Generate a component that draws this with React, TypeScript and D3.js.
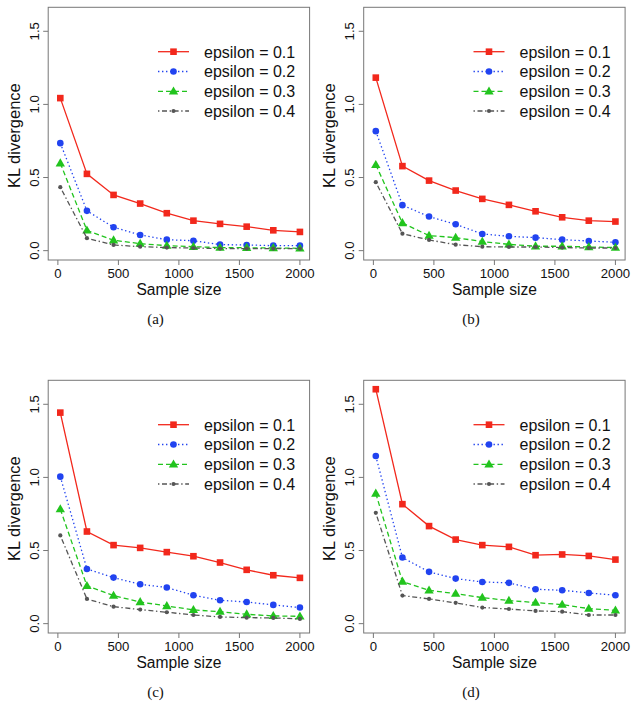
import React from "react";
import * as d3 from "d3";

const sampleSizes = [20, 240, 460, 680, 900, 1120, 1340, 1560, 1780, 2000];
const epsilons = ["epsilon = 0.1", "epsilon = 0.2", "epsilon = 0.3", "epsilon = 0.4"];
const xTicks = [0, 500, 1000, 1500, 2000];
const yTicks = [0, 0.5, 1.0, 1.5];
const captions = ["(a)", "(b)", "(c)", "(d)"];

const panelA = [
  [1.043, 0.525, 0.381, 0.322, 0.256, 0.205, 0.183, 0.164, 0.139, 0.128],
  [0.735, 0.272, 0.16, 0.107, 0.075, 0.068, 0.041, 0.039, 0.034, 0.034],
  [0.598, 0.139, 0.071, 0.048, 0.034, 0.027, 0.021, 0.02, 0.018, 0.016],
  [0.434, 0.085, 0.039, 0.027, 0.021, 0.018, 0.014, 0.014, 0.014, 0.014],
];
const panelB = [
  [1.183, 0.578, 0.479, 0.411, 0.354, 0.313, 0.269, 0.228, 0.205, 0.199],
  [0.817, 0.311, 0.233, 0.18, 0.114, 0.098, 0.089, 0.075, 0.066, 0.057],
  [0.587, 0.189, 0.103, 0.089, 0.062, 0.043, 0.03, 0.03, 0.025, 0.021],
  [0.468, 0.116, 0.073, 0.041, 0.027, 0.025, 0.025, 0.021, 0.018, 0.018],
];
const panelC = [
  [1.443, 0.63, 0.537, 0.518, 0.489, 0.461, 0.418, 0.368, 0.331, 0.313],
  [1.005, 0.374, 0.315, 0.269, 0.247, 0.194, 0.16, 0.148, 0.128, 0.11],
  [0.783, 0.258, 0.192, 0.148, 0.121, 0.094, 0.082, 0.064, 0.053, 0.05],
  [0.603, 0.169, 0.116, 0.096, 0.078, 0.059, 0.046, 0.041, 0.039, 0.032],
];
const panelD = [
  [1.603, 0.817, 0.667, 0.575, 0.537, 0.525, 0.468, 0.473, 0.463, 0.438],
  [1.146, 0.452, 0.354, 0.308, 0.285, 0.279, 0.235, 0.228, 0.21, 0.194],
  [0.89, 0.288, 0.228, 0.205, 0.178, 0.158, 0.144, 0.13, 0.103, 0.091],
  [0.758, 0.192, 0.169, 0.142, 0.11, 0.1, 0.087, 0.082, 0.059, 0.059],
];
const panels = [panelA, panelB, panelC, panelD];

const colors = ["#f2281c", "#2143f0", "#22c41e", "#555555"];
const dashes = ["none", "1.4,2.6", "5,3", "1.4,2.6,5,2.6"];
const offsets = [
  [0, 0],
  [315.5, 0],
  [0, 373],
  [315.5, 373],
];

const sans = "'Liberation Sans', Arial, 'DejaVu Sans', sans-serif";

const x = d3.scaleLinear().domain([-80, 2080]).range([48.2, 309.6]);
const y = d3.scaleLinear().domain([-0.064, 1.664]).range([260, 7.3]);

function Marker({ kind, cx, cy, color }: { kind: number; cx: number; cy: number; color: string }) {
  if (kind === 0) return <rect x={cx - 3.3} y={cy - 3.3} width={6.6} height={6.6} fill={color} />;
  if (kind === 1) return <circle cx={cx} cy={cy} r={3.3} fill={color} />;
  if (kind === 2) {
    const s = d3.symbol(d3.symbolTriangle, 38)();
    return <path d={s as string} transform={`translate(${cx},${cy + 0.5})`} fill={color} />;
  }
  return <circle cx={cx} cy={cy} r={2.1} fill={color} />;
}

function Panel({ data, ox, oy, caption }: { data: number[][]; ox: number; oy: number; caption: string }) {
  const line = d3
    .line<number>()
    .x((_, i) => x(sampleSizes[i]))
    .y((d) => y(d));
  const [x0, x1] = x.range();
  const [y0, y1] = y.range();
  const legendRows = [51.7, 71.5, 91.3, 111];
  return (
    <g transform={`translate(${ox},${oy})`}>
      <rect x={x0} y={y1} width={x1 - x0} height={y0 - y1} fill="none" stroke="#777" strokeWidth={1} />
      {xTicks.map((t) => (
        <g key={"x" + t}>
          <line x1={x(t)} x2={x(t)} y1={y0} y2={y0 + 5} stroke="#777" />
          <text x={x(t)} y={277.5} textAnchor="middle" fontFamily={sans} fontSize={13.2} fill="#111">
            {t}
          </text>
        </g>
      ))}
      {yTicks.map((t) => (
        <g key={"y" + t}>
          <line x1={x0} x2={x0 - 5} y1={y(t)} y2={y(t)} stroke="#777" />
          <text
            transform={`translate(38.5,${y(t)}) rotate(-90)`}
            textAnchor="middle"
            fontFamily={sans}
            fontSize={13.2}
            fill="#111"
          >
            {t.toFixed(1)}
          </text>
        </g>
      ))}
      <text x={(x0 + x1) / 2} y={294.5} textAnchor="middle" fontFamily={sans} fontSize={15.6} fill="#111">
        Sample size
      </text>
      <text
        transform={`translate(19.5,${(y0 + y1) / 2 + 2}) rotate(-90)`}
        textAnchor="middle"
        fontFamily={sans}
        fontSize={16.5}
        fill="#111"
      >
        KL divergence
      </text>
      {data.map((series, si) => (
        <g key={"s" + si}>
          <path
            d={line(series) as string}
            fill="none"
            stroke={colors[si]}
            strokeWidth={1.3}
            strokeDasharray={dashes[si]}
          />
          {series.map((v, i) => (
            <Marker key={i} kind={si} cx={x(sampleSizes[i])} cy={y(v)} color={colors[si]} />
          ))}
        </g>
      ))}
      {epsilons.map((lab, si) => (
        <g key={"l" + si}>
          <line
            x1={158}
            x2={189}
            y1={legendRows[si]}
            y2={legendRows[si]}
            stroke={colors[si]}
            strokeWidth={1.3}
            strokeDasharray={dashes[si]}
          />
          <Marker kind={si} cx={173.5} cy={legendRows[si]} color={colors[si]} />
          <text x={204} y={legendRows[si] + 5.8} fontFamily={sans} fontSize={16} fill="#111">
            {lab}
          </text>
        </g>
      ))}
      <text
        x={155.5}
        y={323.5}
        textAnchor="middle"
        fontFamily="'Liberation Serif', 'DejaVu Serif', serif"
        fontSize={15}
        fill="#111"
      >
        {caption}
      </text>
    </g>
  );
}

export default function App() {
  return (
    <svg
      width={639}
      height={723}
      style={{ position: "absolute", left: 0, top: 0, background: "#fff" }}
    >
      <rect width={639} height={723} fill="#fff" />
      {panels.map((p, i) => (
        <Panel key={i} data={p} ox={offsets[i][0]} oy={offsets[i][1]} caption={captions[i]} />
      ))}
    </svg>
  );
}
